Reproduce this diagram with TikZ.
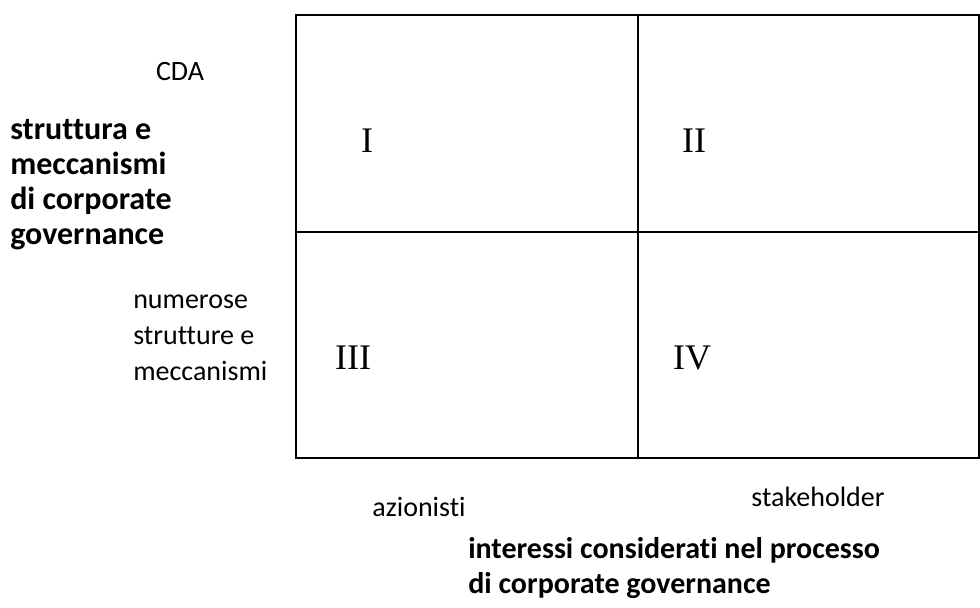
\documentclass[tikz,border=0pt]{standalone}
\usepackage{fontspec}
\setmainfont[Ligatures=NoCommon]{Carlito}
\newfontfamily\numfont{Liberation Serif}
\usetikzlibrary{positioning}

\begin{document}
\begin{tikzpicture}[
    x=0.75pt, y=-0.75pt,
    cell/.style={draw, line width=1.3pt, inner sep=0pt, anchor=north west},
    num/.style={font=\numfont\fontsize{27}{30}\selectfont, inner sep=0pt},
    lbl/.style={font=\fontsize{21}{27}\selectfont, align=left, inner sep=0pt},
    head/.style={lbl, font=\bfseries\fontsize{22.5}{26.5}\selectfont},
    sidehead/.style={lbl, font=\bfseries\fontsize{24}{26.3}\selectfont}
]
\useasboundingbox (0,0) rectangle (980,607);
% the four quadrants
\node[cell, minimum width=342*0.75pt, minimum height=217*0.75pt] (q1) at (295,14) {};
\node[cell, minimum width=341*0.75pt, minimum height=217*0.75pt] (q2) at (637,14) {};
\node[cell, minimum width=342*0.75pt, minimum height=226*0.75pt] (q3) at (295,231) {};
\node[cell, minimum width=341*0.75pt, minimum height=226*0.75pt] (q4) at (637,231) {};
\node[num] (n1) at (367,141) {I};
\node[num] (n2) at (694,141) {II};
\node[num] (n3) at (353,358) {III};
\node[num] (n4) at (692,358) {IV};
% vertical axis
\node[lbl] (cda) at (180,72) {CDA};
\node[sidehead, anchor=west] (yaxis) at (10,185) {struttura e\\meccanismi\\di corporate\\governance};
\node[lbl, anchor=west] (many) at (133,338) {numerose\\strutture e\\meccanismi};
% horizontal axis
\node[lbl] (share) at (419,507) {azionisti};
\node[lbl] (stake) at (818,497) {stakeholder};
\node[head, anchor=west] (xaxis) at (468,568) {interessi considerati nel processo\\di corporate governance};
\end{tikzpicture}
\end{document}
